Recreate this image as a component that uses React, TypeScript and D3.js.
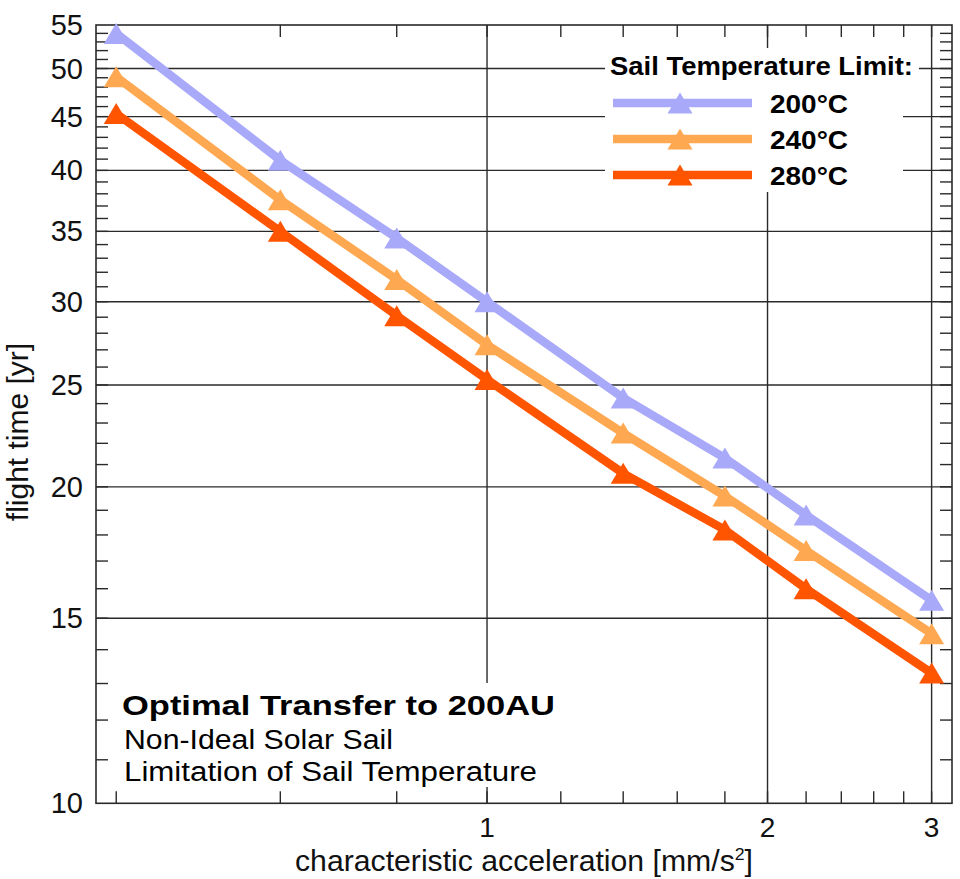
import React from "react";
import * as d3 from "d3";

// characteristic acceleration [mm/s^2]
const accel = [0.4, 0.6, 0.8, 1.0, 1.4, 1.8, 2.2, 3.0];
// flight time [yr] per sail temperature limit
const time200 = [54.0, 40.9, 34.5, 30.0, 24.3, 21.3, 18.8, 15.6];
const time240 = [49.1, 37.5, 31.5, 27.3, 22.5, 19.6, 17.4, 14.5];
const time280 = [45.3, 35.0, 29.1, 25.3, 20.6, 18.2, 16.0, 13.3];

const seriesNames = ["200°C", "240°C", "280°C"];
const seriesColors = ["#a9a9fa", "#ffa852", "#ff5400"];

const yTickLabels = [10, 15, 20, 25, 30, 35, 40, 45, 50, 55];
const xTickLabels = [1, 2, 3];

const W = 960;
const H = 879;
const left = 96;
const right = 952;
const top = 25;
const bottom = 803.3;

export default function App() {
  const x = d3.scaleLog().domain([0.3805, 3.155]).range([left, right]);
  const y = d3.scaleLog().domain([10, 55]).range([bottom, top]);

  const series = [time200, time240, time280].map((vals, i) => ({
    name: seriesNames[i],
    color: seriesColors[i],
    points: accel.map((a, j) => [a, vals[j]] as [number, number]),
  }));

  const line = d3
    .line<[number, number]>()
    .x((d) => x(d[0]))
    .y((d) => y(d[1]));

  // upward triangle marker centred on its bounding box
  const tri = (cx: number, cy: number, hw = 12.5, hh = 10.5) =>
    `M${cx},${cy - hh}L${cx + hw},${cy + hh}L${cx - hw},${cy + hh}Z`;

  const yMinor = d3.range(11, 55);
  const xMinor = d3.range(2, 16).map((k) => k * 0.2).filter((v) => v > 0.38 && v < 3.15);

  const gridCol = "#2a2a2a";
  const font = "'Liberation Sans', Arial, sans-serif";
  const narrow = "'Liberation Sans Narrow', 'Liberation Sans', Arial, sans-serif";

  const legendY = [103, 139, 175];

  return (
    <svg
      width={W}
      height={H}
      style={{ position: "absolute", left: 0, top: 0, background: "#fff" }}
    >
      <rect x={0} y={0} width={W} height={H} fill="#fff" />

      {/* horizontal gridlines */}
      {yTickLabels
        .filter((v) => v > 10 && v < 55)
        .map((v) => (
          <line key={"gy" + v} x1={left} x2={right} y1={y(v)} y2={y(v)} stroke={gridCol} strokeWidth={1.4} />
        ))}
      {/* vertical gridlines */}
      {xTickLabels.map((v) => (
        <line key={"gx" + v} x1={x(v)} x2={x(v)} y1={top} y2={bottom} stroke={gridCol} strokeWidth={1.4} />
      ))}

      {/* minor ticks */}
      {yMinor.map((v) => (
        <g key={"ty" + v}>
          <line x1={left} x2={left + 12} y1={y(v)} y2={y(v)} stroke={gridCol} strokeWidth={1.4} />
          <line x1={right} x2={right - 12} y1={y(v)} y2={y(v)} stroke={gridCol} strokeWidth={1.4} />
        </g>
      ))}
      {xMinor.map((v) => (
        <g key={"tx" + v}>
          <line x1={x(v)} x2={x(v)} y1={bottom} y2={bottom - 12} stroke={gridCol} strokeWidth={1.4} />
          <line x1={x(v)} x2={x(v)} y1={top} y2={top + 12} stroke={gridCol} strokeWidth={1.4} />
        </g>
      ))}

      {/* frame */}
      <rect x={left} y={top} width={right - left} height={bottom - top} fill="none" stroke={gridCol} strokeWidth={1.6} />

      {/* y tick labels */}
      {yTickLabels.map((v) => (
        <text key={"ly" + v} x={83} y={y(v) + 10} textAnchor="end" fontFamily={font} fontSize={29} fill="#111">
          {v}
        </text>
      ))}
      {/* x tick labels */}
      {xTickLabels.map((v) => (
        <text key={"lx" + v} x={x(v)} y={837} textAnchor="middle" fontFamily={narrow} fontSize={28} fill="#111">
          {v}
        </text>
      ))}

      {/* axis titles */}
      <text x={295} y={871} fontFamily={narrow} fontSize={29} fill="#111" textLength={458} lengthAdjust="spacingAndGlyphs">
        characteristic acceleration [mm/s
        <tspan dy={-11} fontSize={17}>2</tspan>
        <tspan dy={11}>]</tspan>
      </text>
      <text
        transform={`translate(28,432) rotate(-90)`}
        textAnchor="middle"
        fontFamily={narrow}
        fontSize={30}
        fill="#111"
      >
        flight time [yr]
      </text>

      {/* annotation block */}
      <rect x={114} y={683} width={448} height={104} fill="#fff" />
      <text x={122} y={715} fontFamily={font} fontWeight="bold" fontSize={28} fill="#000" textLength={433} lengthAdjust="spacingAndGlyphs">
        Optimal Transfer to 200AU
      </text>
      <text x={124} y={749} fontFamily={font} fontSize={27} fill="#000" textLength={269} lengthAdjust="spacingAndGlyphs">
        Non-Ideal Solar Sail
      </text>
      <text x={124} y={781} fontFamily={font} fontSize={27} fill="#000" textLength={413} lengthAdjust="spacingAndGlyphs">
        Limitation of Sail Temperature
      </text>

      {/* legend */}
      <rect x={605} y={48} width={298} height={144} fill="#fff" />
      <rect x={605} y={52} width={314} height={34} fill="#fff" />
      <text x={610} y={75} fontFamily={font} fontWeight="bold" fontSize={25} fill="#000" textLength={303} lengthAdjust="spacingAndGlyphs">
        Sail Temperature Limit:
      </text>
      {series.map((s, i) => (
        <g key={"lg" + i}>
          <line x1={613} x2={752} y1={legendY[i]} y2={legendY[i]} stroke={s.color} strokeWidth={8.5} />
          <path d={tri(680, legendY[i])} fill={s.color} />
          <text x={770} y={legendY[i] + 10} fontFamily={font} fontWeight="bold" fontSize={26} fill="#000" textLength={78} lengthAdjust="spacingAndGlyphs">
            {s.name}
          </text>
        </g>
      ))}

      {/* data series */}
      {series.map((s, i) => (
        <g key={"s" + i}>
          <path d={line(s.points) || ""} fill="none" stroke={s.color} strokeWidth={8.5} strokeLinejoin="miter" />
          {s.points.map((p, j) => (
            <path key={j} d={tri(x(p[0]), y(p[1]))} fill={s.color} />
          ))}
        </g>
      ))}
    </svg>
  );
}
